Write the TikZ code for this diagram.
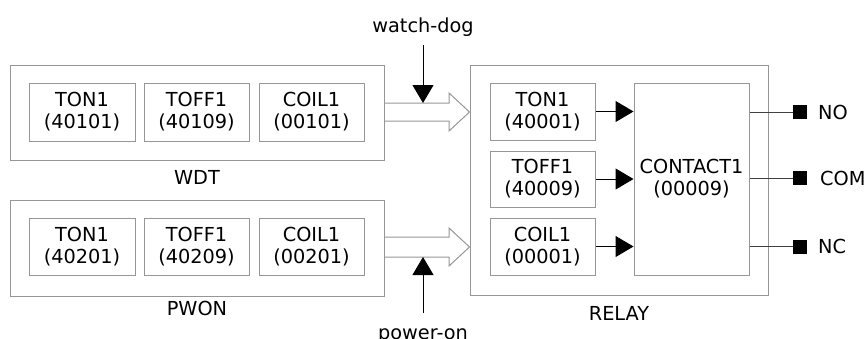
\documentclass[tikz,border=0pt]{standalone}
\usepackage{fontspec}
\setmainfont{DejaVu Sans}
\usetikzlibrary{arrows.meta}
\definecolor{boxgray}{RGB}{150,150,150}
\newcommand{\lblfont}{\fontsize{19.3}{22}\selectfont}
\begin{document}
\begin{tikzpicture}[x=1pt,y=-1pt,
  outer/.style={draw=boxgray, line width=1pt, inner sep=0pt},
  cell/.style={draw=boxgray, line width=1pt, inner sep=0pt, align=center, font=\lblfont},
  lbl/.style={font=\lblfont, inner sep=0pt},
  sig/.style={draw=black, line width=1pt, -{Triangle[length=18pt,width=21pt]}},
  hollow/.style={draw=boxgray, line width=1pt},
  wire/.style={draw=black!75, line width=1pt},
  term/.style={fill=black, minimum size=14pt, inner sep=0pt}
]
\useasboundingbox (0,0) rectangle (864,338);

% WDT group
\node[outer, minimum width=374pt, minimum height=95pt] (wdt) at (197,112.5) {};
\node[cell, minimum width=106pt, minimum height=58pt] (w1) at (82,112) {TON1\\(40101)};
\node[cell, minimum width=105pt, minimum height=58pt] (w2) at (196.5,112) {TOFF1\\(40109)};
\node[cell, minimum width=105pt, minimum height=58pt] (w3) at (311.5,112) {COIL1\\(00101)};
\node[lbl] (wdtl) at (197,177) {WDT};

% PWON group
\node[outer, minimum width=374pt, minimum height=96pt] (pwon) at (197,248) {};
\node[cell, minimum width=106pt, minimum height=57pt] (p1) at (82,246.5) {TON1\\(40201)};
\node[cell, minimum width=105pt, minimum height=57pt] (p2) at (196.5,246.5) {TOFF1\\(40209)};
\node[cell, minimum width=105pt, minimum height=57pt] (p3) at (311.5,246.5) {COIL1\\(00201)};
\node[lbl] (pwonl) at (197,308) {PWON};

% RELAY group
\node[outer, minimum width=298pt, minimum height=230pt] (relay) at (619,180) {};
\node[cell, minimum width=105pt, minimum height=57pt] (r1) at (542.5,111.5) {TON1\\(40001)};
\node[cell, minimum width=105pt, minimum height=56pt] (r2) at (542.5,179) {TOFF1\\(40009)};
\node[cell, minimum width=105pt, minimum height=57pt] (r3) at (542.5,246.5) {COIL1\\(00001)};
\node[cell, minimum width=115pt, minimum height=192pt] (ct) at (691.5,179) {CONTACT1\\(00009)};
\node[lbl] (relayl) at (619,313) {RELAY};

% hollow arrows
\draw[hollow] (wdt.east |- 0,103) -- (449,103) -- (449,93) -- (relay.west |- 0,112)
  -- (449,131) -- (449,121) -- (wdt.east |- 0,121);
\draw[hollow] (pwon.east |- 0,237) -- (449,237) -- (449,228) -- (relay.west |- 0,247)
  -- (449,266) -- (449,257) -- (pwon.east |- 0,257);

% watch-dog and power-on
\node[lbl] (wd) at (423,27) {watch-dog};
\coordinate (wds) at (423,45);
\coordinate (wdt2) at (423,103);
\draw[sig] (wds) -- (wdt2);
\node[lbl] (po) at (423,336) {power-on};
\coordinate (pos) at (423,313);
\coordinate (pot) at (423,257);
\draw[sig] (pos) -- (pot);

% inner arrows
\draw[sig] (r1.east) -- (ct.west |- r1.east);
\draw[sig] (r2.east) -- (ct.west |- r2.east);
\draw[sig] (r3.east) -- (ct.west |- r3.east);

% outputs
\node[term] (sno) at (800,112) {};
\node[term] (scom) at (800,178) {};
\node[term] (snc) at (800,246.5) {};
\draw[wire] (ct.east |- sno) -- (sno);
\draw[wire] (ct.east |- scom) -- (scom);
\draw[wire] (ct.east |- snc) -- (snc);
\node[lbl, anchor=west] (lno) at (818,112) {NO};
\node[lbl, anchor=west] (lcom) at (820,178) {COM};
\node[lbl, anchor=west] (lnc) at (818,246.5) {NC};
\end{tikzpicture}
\end{document}
